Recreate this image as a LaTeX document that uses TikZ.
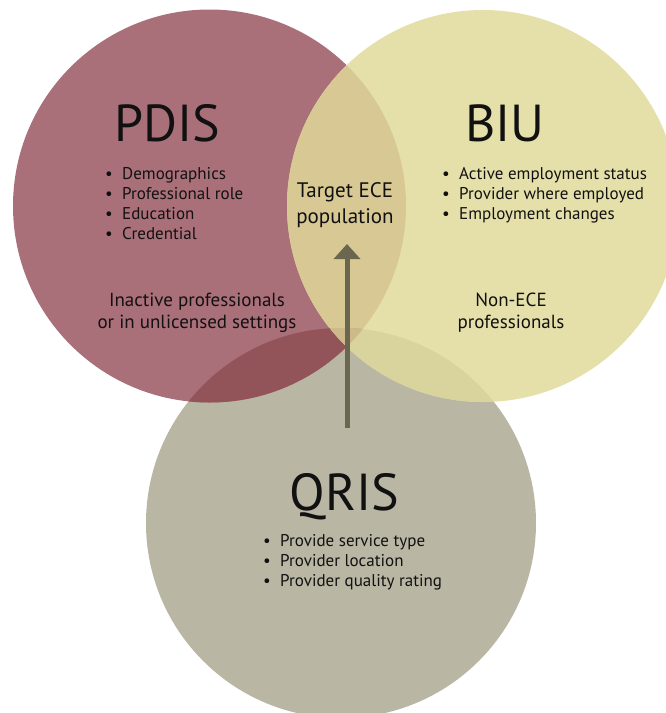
\documentclass[tikz,border=0pt]{standalone}
\usepackage{fontspec}
\setmainfont{PT Sans}
\usetikzlibrary{arrows.meta}
\definecolor{pdisc}{HTML}{AA707A}
\definecolor{biuc}{HTML}{E5E0AA}
\definecolor{qrisc}{HTML}{BAB6A4}
\definecolor{pbc}{HTML}{D8C893}
\definecolor{pqc}{HTML}{925458}
\definecolor{bqc}{HTML}{D9D39D}
\definecolor{pbqc}{HTML}{CDB98A}
\definecolor{arrowc}{HTML}{6B6650}
\definecolor{textc}{HTML}{111111}
\newcommand\itm[1]{\makebox[17pt][l]{\textbullet}#1}
\newcommand\blist[1]{\begin{tabular}[t]{@{}l@{}}#1\end{tabular}}
\newcommand\clist[1]{\begin{tabular}[t]{@{}c@{}}#1\end{tabular}}
\begin{document}
\begin{tikzpicture}[x=1pt,y=-1pt,
  title/.style={font=\fontsize{52}{60}\selectfont, text=textc, inner sep=0pt, anchor=base},
  bullets/.style={font=\fontsize{17}{20}\selectfont, text=textc, inner sep=0pt, anchor=base west},
  lbl/.style={font=\fontsize{19}{22}\selectfont, text=textc, inner sep=0pt, anchor=base},
  tgt/.style={font=\fontsize{21}{26}\selectfont, text=textc, inner sep=0pt, anchor=base},
  flow/.style={line width=5pt, draw=arrowc, -{Triangle[width=26pt,length=15pt]}},
]
\useasboundingbox (0,0) rectangle (666,713);
\clip (0,0) rectangle (666,713);
\fill[white] (0,0) rectangle (666,713);
% circle centres
\coordinate (P) at (209.5,206);
\coordinate (B) at (483,206);
\coordinate (Q) at (341,523);
% base circles
\fill[qrisc] (Q) circle[radius=195pt];
\fill[pdisc] (P) circle[radius=196.5pt];
\fill[biuc] (B) circle[radius=196pt];
% overlaps
\begin{scope}
  \clip (P) circle[radius=196.5pt];
  \fill[pbc] (B) circle[radius=196pt];
\end{scope}
\begin{scope}
  \clip (P) circle[radius=196.5pt];
  \fill[pqc] (Q) circle[radius=195pt];
\end{scope}
\begin{scope}
  \clip (B) circle[radius=196pt];
  \fill[bqc] (Q) circle[radius=195pt];
\end{scope}
\begin{scope}
  \clip (P) circle[radius=196.5pt];
  \clip (B) circle[radius=196pt];
  \fill[pbqc] (Q) circle[radius=195pt];
\end{scope}
% titles
\node[title] (pdis) at (167,141) {PDIS};
\node[title] (biu) at (505,141) {BIU};
\node[title] (qris) at (344.5,510) {QRIS};
% bullet lists
\node[bullets] (pdislist) at (105,179) {\blist{\itm{Demographics}\\ \itm{Professional role}\\ \itm{Education}\\ \itm{Credential}}};
\node[bullets] (biulist) at (442,179) {\blist{\itm{Active employment status}\\ \itm{Provider where employed}\\ \itm{Employment changes}}};
\node[bullets] (qrislist) at (263,546) {\blist{\itm{Provide service type}\\ \itm{Provider location}\\ \itm{Provider quality rating}}};
% region labels
\node[tgt] (target) at (345,197) {\clist{Target ECE\\ population}};
\node[lbl] (inactive) at (197,306) {\clist{Inactive professionals\\ or in unlicensed settings}};
\node[lbl] (nonece) at (511,306) {\clist{Non-ECE\\ professionals}};
% arrow
\coordinate (arrowfoot) at (347,428);
\draw[flow, shorten >=13pt] (arrowfoot) -- (arrowfoot |- target.south);
\end{tikzpicture}
\end{document}
